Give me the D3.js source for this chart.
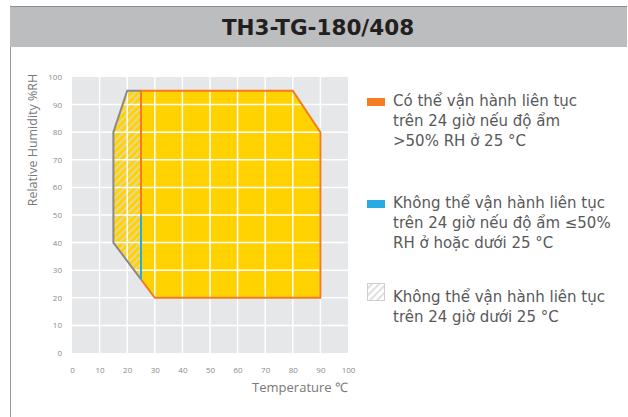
<!DOCTYPE html>
<html>
<head>
<meta charset="utf-8">
<script src="https://cdn.jsdelivr.net/npm/d3@7"></script>
<style>
  body { margin: 0; background: #fff; }
  svg { display: block; }
</style>
</head>
<body>
<script>
// chart values
const title = "TH3-TG-180/408";
const xTicks = [0, 10, 20, 30, 40, 50, 60, 70, 80, 90, 100];
const yTicks = [0, 10, 20, 30, 40, 50, 60, 70, 80, 90, 100];
const operatingRange = [[15, 80], [20, 95], [80, 95], [90, 80], [90, 20], [30, 20], [15, 40]];
const hatchedRange = [[15, 80], [20, 95], [25, 95], [25, 26.67], [15, 40]];
const orangeEdge = [[25, 50], [25, 95], [80, 95], [90, 80], [90, 20], [30, 20], [25, 26.67]];
const blueEdge = [[25, 26.67], [25, 50]];
const grayEdge = [[25, 95], [20, 95], [15, 80], [15, 40], [25, 26.67]];
const legendItems = [
  { key: "orange", lines: ["Có thể vận hành liên tục", "trên 24 giờ nếu độ ẩm", ">50% RH ở 25 °C"] },
  { key: "blue", lines: ["Không thể vận hành liên tục", "trên 24 giờ nếu độ ẩm ≤50%", "RH ở hoặc dưới 25 °C"] },
  { key: "hatch", lines: ["Không thể vận hành liên tục", "trên 24 giờ dưới 25 °C"] }
];

const width = 628, height = 417;
const colors = { orange: "#f47b20", blue: "#29abe2", gray: "#8c8885", yellow: "#ffd200" };

const svg = d3.select("body")
    .append("svg")
    .attr("width", width)
    .attr("height", height);

// frame + header
svg.append("line")
    .attr("x1", 10.5).attr("x2", 10.5)
    .attr("y1", 6).attr("y2", height)
    .attr("stroke", "#9a9a9a").attr("stroke-width", 1);

svg.append("rect")
    .attr("x", 10).attr("y", 6)
    .attr("width", 617).attr("height", 41)
    .attr("fill", "#bcbdbf");
svg.append("line")
    .attr("x1", 10).attr("x2", 627)
    .attr("y1", 6.5).attr("y2", 6.5)
    .attr("stroke", "#8f8f8f");

svg.append("text")
    .attr("x", 318).attr("y", 35)
    .attr("text-anchor", "middle")
    .attr("font-family", "DejaVu Sans")
    .attr("font-weight", "bold")
    .attr("font-size", 21.5)
    .attr("fill", "#231f20")
    .text(title);

// hatch patterns
const defs = svg.append("defs");
const hatch = defs.append("pattern")
    .attr("id", "hatch")
    .attr("patternUnits", "userSpaceOnUse")
    .attr("width", 5).attr("height", 5)
    .attr("patternTransform", "rotate(45)");
hatch.append("rect").attr("width", 5).attr("height", 5).attr("fill", colors.yellow);
hatch.append("rect").attr("width", 2).attr("height", 5).attr("fill", "#e6d79c");

const hatchIcon = defs.append("pattern")
    .attr("id", "hatchIcon")
    .attr("patternUnits", "userSpaceOnUse")
    .attr("width", 5).attr("height", 5)
    .attr("patternTransform", "rotate(45)");
hatchIcon.append("rect").attr("width", 5).attr("height", 5).attr("fill", "#fff");
hatchIcon.append("rect").attr("width", 1.5).attr("height", 5).attr("fill", "#d6d6d6");

// plot
const x = d3.scaleLinear().domain([0, 100]).range([72, 348]);
const y = d3.scaleLinear().domain([0, 100]).range([353, 77]);

svg.append("rect")
    .attr("x", x(0)).attr("y", y(100))
    .attr("width", x(100) - x(0)).attr("height", y(0) - y(100))
    .attr("fill", "#e6e7e8");

const line = d3.line().x(d => x(d[0])).y(d => y(d[1]));

svg.append("path")
    .attr("d", line(operatingRange) + "Z")
    .attr("fill", colors.yellow);

svg.append("path")
    .attr("d", line(hatchedRange) + "Z")
    .attr("fill", "url(#hatch)");

// grid
const grid = svg.append("g").attr("stroke", "#fff").attr("stroke-width", 1.5);
grid.selectAll(".gx")
    .data(xTicks.slice(1, -1))
    .enter().append("line")
    .attr("x1", d => x(d)).attr("x2", d => x(d))
    .attr("y1", y(100)).attr("y2", y(0));
grid.selectAll(".gy")
    .data(yTicks.slice(1, -1))
    .enter().append("line")
    .attr("x1", x(0)).attr("x2", x(100))
    .attr("y1", d => y(d)).attr("y2", d => y(d));

// outlines
svg.append("path")
    .attr("d", line(grayEdge))
    .attr("fill", "none").attr("stroke", colors.gray).attr("stroke-width", 2);
svg.append("path")
    .attr("d", line(orangeEdge))
    .attr("fill", "none").attr("stroke", colors.orange).attr("stroke-width", 2);
svg.append("path")
    .attr("d", line(blueEdge))
    .attr("fill", "none").attr("stroke", colors.blue).attr("stroke-width", 2);

// axes
const xAxis = svg.append("g")
    .attr("transform", `translate(0, ${y(0) + 14})`)
    .call(d3.axisBottom(x).tickValues(xTicks).tickSize(0).tickPadding(0));
const yAxis = svg.append("g")
    .attr("transform", `translate(${x(0) - 10}, 0)`)
    .call(d3.axisLeft(y).tickValues(yTicks).tickSize(0).tickPadding(0));
[xAxis, yAxis].forEach(a => {
  a.select(".domain").remove();
  a.selectAll("text")
      .attr("font-family", "Open Sans")
      .attr("font-size", 8)
      .attr("fill", "#8a8a8a");
});

svg.append("text")
    .attr("x", 348).attr("y", 392)
    .attr("text-anchor", "end")
    .attr("font-family", "Open Sans")
    .attr("font-size", 13)
    .attr("fill", "#77787b")
    .text("Temperature ℃");

svg.append("text")
    .attr("transform", "translate(37, 140) rotate(-90)")
    .attr("text-anchor", "middle")
    .attr("font-family", "Open Sans")
    .attr("font-size", 12.5)
    .attr("fill", "#77787b")
    .text("Relative Humidity %RH");

// legend
const legendTops = [106, 208, 302];
const legend = svg.append("g");
legendItems.forEach((item, i) => {
  const g = legend.append("g").attr("transform", `translate(367, ${legendTops[i]})`);
  if (item.key === "hatch") {
    g.append("rect")
        .attr("x", 0.5).attr("y", -18.5)
        .attr("width", 17).attr("height", 17)
        .attr("fill", "url(#hatchIcon)")
        .attr("stroke", "#cfcfcf");
  } else {
    g.append("rect")
        .attr("x", 0).attr("y", -8)
        .attr("width", 18).attr("height", 8)
        .attr("fill", colors[item.key]);
  }
  g.selectAll("text")
      .data(item.lines)
      .enter().append("text")
      .attr("x", 26)
      .attr("y", (d, j) => j * 20)
      .attr("font-family", "DejaVu Sans")
      .attr("font-size", 15)
      .attr("fill", "#58595b")
      .text(d => d);
});
</script>
</body>
</html>
